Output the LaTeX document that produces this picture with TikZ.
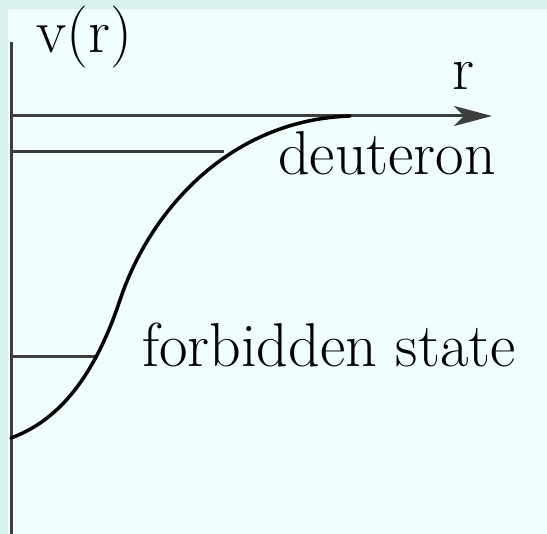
\documentclass[tikz,border=0pt]{standalone}
\usetikzlibrary{arrows.meta,calc,positioning}
\definecolor{bandcyan}{RGB}{215,242,238}
\definecolor{panelcyan}{RGB}{240,254,254}
\definecolor{axisgray}{RGB}{60,62,62}
\tikzset{
  axisline/.style={line width=3pt,draw=axisgray},
  levelline/.style={line width=3pt,draw=axisgray},
  potcurve/.style={line width=3.5pt,draw=black,line cap=round},
  lbl/.style={inner sep=0pt,anchor=base west,font=\fontsize{62}{72}\selectfont}
}

\begin{document}
\begin{tikzpicture}[x=1pt,y=-1pt]
      % Background
      \fill[bandcyan] (0,0) rectangle (547,534);
      \fill[panelcyan] (8,9) rectangle (547,534);
      \useasboundingbox (0,0) rectangle (547,534);
      % Axes
      \coordinate (vtop) at (11,42);
      \coordinate (vbot) at (11,534);
      \coordinate (orig) at (11,116);
      \coordinate (rend) at (492,116);
      \draw[axisline] (vtop) -- (vbot);
      \draw[axisline,-{Stealth[length=38pt,width=20pt,inset=10pt]}] (orig) -- (rend);
      % Levels
      \coordinate (dleft) at (11,152);
      \coordinate (dright) at (224,152);
      \coordinate (fleft) at (11,357);
      \coordinate (fright) at (98,357);
      \draw[levelline] (dleft) -- (dright);
      \draw[levelline] (fleft) -- (fright);
      % Potential
      \coordinate (pstart) at (11,438);
      \coordinate (pmid) at (120,300);
      \coordinate (pend) at (350,116);
      \draw[potcurve] (pstart) .. controls (60,420) and (95,375) .. (pmid)
                              .. controls (150,210) and (230,120) .. (pend);
      % Labels
      \node[lbl] (vr) at (36,53) {v(r)};
      \node[lbl] (rlab) at (452,90) {r};
      \node[lbl] (deut) at (278,175) {deuteron};
      \node[lbl] (forb) at (142,367) {forbidden state};
\end{tikzpicture}
\end{document}
